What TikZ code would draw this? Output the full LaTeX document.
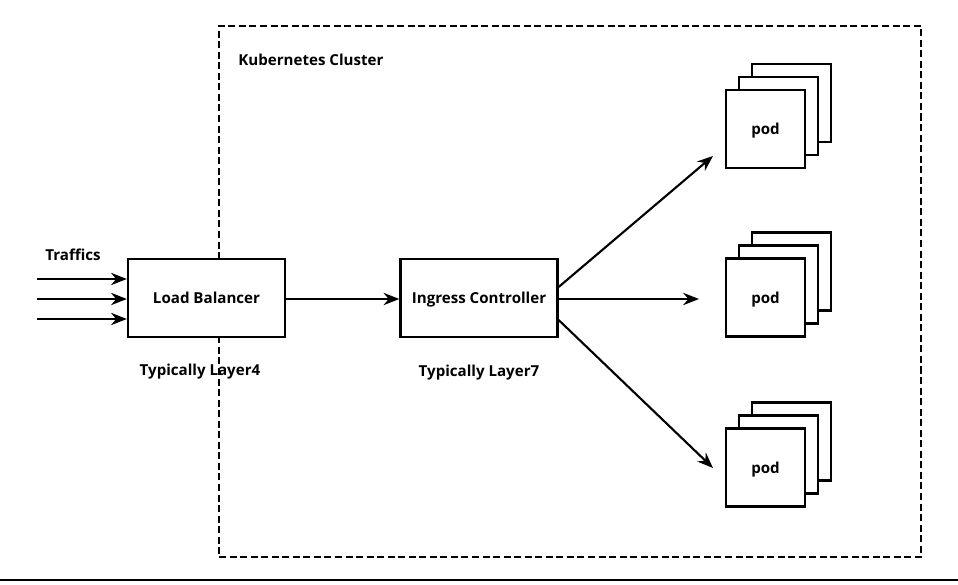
\documentclass[tikz,border=0pt]{standalone}
\usepackage{fontspec}
\setmainfont{Open Sans}
\usetikzlibrary{calc,arrows.meta}
\begin{document}
\begin{tikzpicture}[x=0.02cm,y=-0.02cm,
  every node/.style={font=\fontsize{8.6}{10}\selectfont\bfseries},
  box/.style={draw=black,line width=1.3pt,fill=white,minimum width=157*0.02cm,minimum height=78*0.02cm,inner sep=0pt,text depth=-1pt},
  podbox/.style={draw=black,line width=1.3pt,fill=white,minimum width=79*0.02cm,minimum height=78*0.02cm,inner sep=0pt,text depth=-1pt},
  conn/.style={line width=1.2pt,-{Stealth[length=9pt,width=7pt]}},
  lbl/.style={inner sep=0pt}]
\useasboundingbox (0,0) rectangle (958,585);
% cluster
\node[draw=black,line width=0.6pt,dash pattern=on 4pt off 2pt,minimum width=702*0.02cm,minimum height=531*0.02cm,inner sep=0pt] (cluster) at (570,291.5) {};
\node[lbl,anchor=west] (ktitle) at (238,60) {Kubernetes Cluster};
% boxes
\node[box] (lb) at (206.5,298) {Load Balancer};
\node[box] (ic) at (479,298) {Ingress Controller};
\node[lbl] (l4) at (200,372) {Typically Layer4};
\node[lbl] (l7) at (479,373) {Typically Layer7};
\node[lbl,anchor=west] (traffic) at (45,255) {Traffics};
% pods
\foreach \n/\y in {1/129,2/297.5,3/467.5}{
  \node[podbox] (p\n c) at (791.5,\y-26) {};
  \node[podbox] (p\n b) at (778.5,\y-13) {};
  \node[podbox] (p\n) at (765.5,\y) {pod};
}
% traffic arrows
\coordinate (t1) at (37,279);
\coordinate (t2) at (37,299);
\coordinate (t3) at (37,319);
\foreach \t in {t1,t2,t3}{\draw[conn] (\t) -- (lb.west |- \t);}
\draw[conn] (lb.east |- 0,299) -- (ic.west |- 0,299);
\coordinate (e1) at (713,156);
\coordinate (e2) at (699,299);
\coordinate (e3) at (713,468);
\draw[conn] ($(ic.east)+(0,-11)$) -- (e1);
\draw[conn] (ic.east |- e2) -- (e2);
\draw[conn] ($(ic.east)+(0,22)$) -- (e3);
% bottom rule
\coordinate (r1) at (0,580);
\coordinate (r2) at (958,580);
\draw[line width=1.2pt] (r1) -- (r2);
\end{tikzpicture}
\end{document}
